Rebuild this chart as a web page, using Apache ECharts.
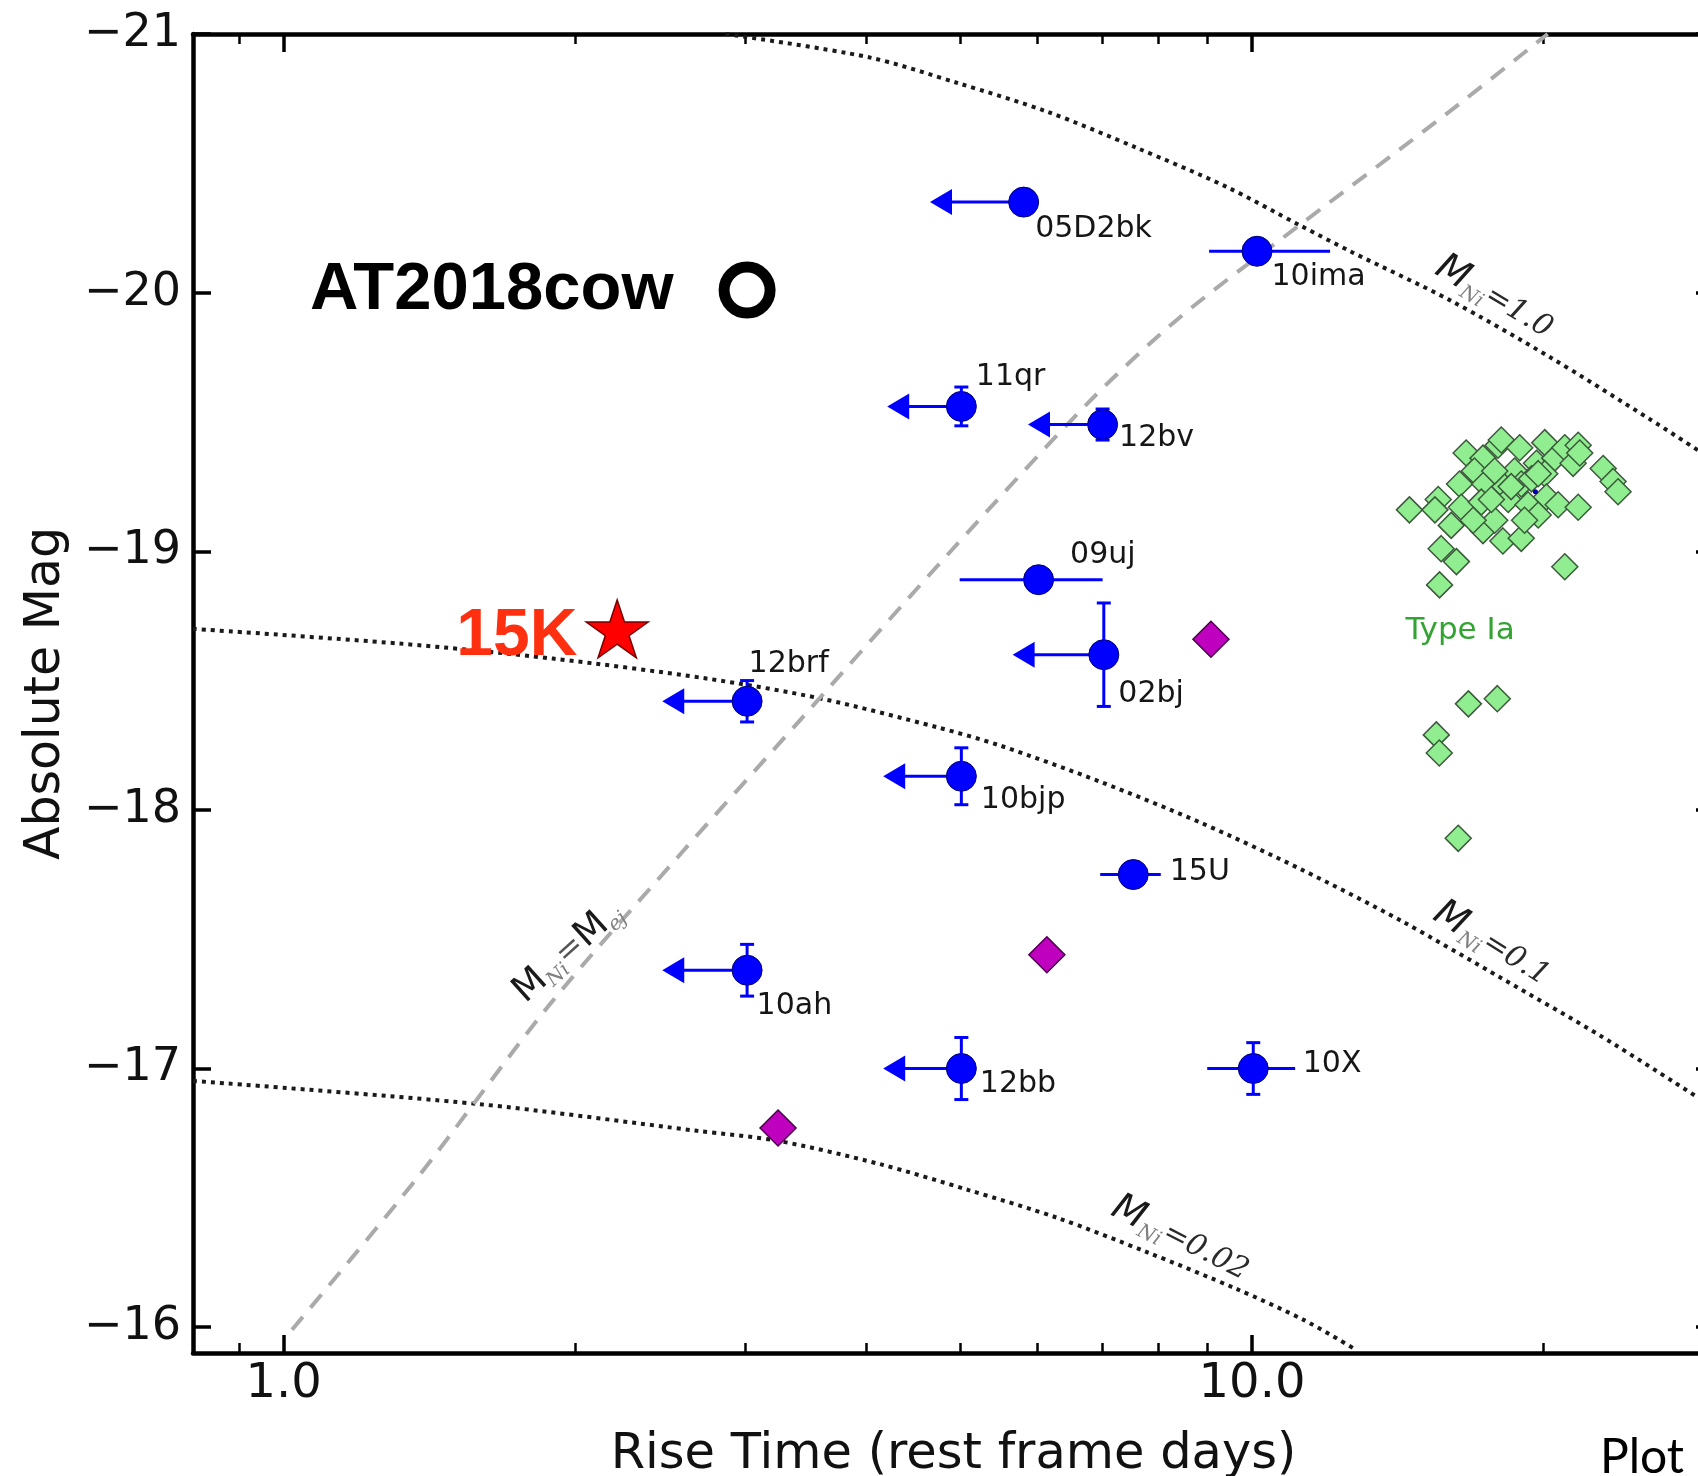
<!DOCTYPE html>
<html><head><meta charset="utf-8">
<script src="https://cdn.jsdelivr.net/npm/echarts@6/dist/echarts.min.js"></script>
<style>html,body{margin:0;padding:0;background:#fff;overflow:hidden;width:1698px;height:1476px}#c{width:1730px;height:1476px}</style>
</head><body><div id="c"></div>
<script>
// ---------------- data ----------------
const xMajorTicks = [1, 10];
const xMinorTicks = [0.9, 2, 3, 4, 5, 6, 7, 8, 9, 20, 30];
const yTicks = [-21, -20, -19, -18, -17, -16];

// blue transients
const names     = ['05D2bk','10ima','11qr','12bv','09uj','02bj','12brf','10bjp','15U','10ah','12bb','10X'];
const riseTime  = [5.81, 10.12, 5.01, 7.01, 6.02, 7.03, 3.01, 5.01, 7.54, 3.01, 5.01, 10.03];
const absMag    = [-20.35, -20.16, -19.56, -19.49, -18.89, -18.60, -18.42, -18.13, -17.75, -17.38, -17.00, -17.00];
const upperLim  = [1, 0, 1, 1, 0, 1, 1, 1, 0, 1, 1, 0];            // rise time upper limit (arrow)
const riseLow   = [4.65, 9.03, 4.2, 5.87, 4.99, 5.66, 2.46, 4.16, 6.97, 2.46, 4.16, 8.99]; // arrow tip or lower end
const riseHigh  = [0, 12.04, 0, 0, 7.01, 0, 0, 0, 8.05, 0, 0, 11.08];
const magErr    = [0, 0, 0.075, 0.06, 0, 0.20, 0.08, 0.11, 0, 0.10, 0.12, 0.10];

// magenta diamonds
const magentaRise = [9.07, 6.14, 3.24];
const magentaMag  = [-18.66, -17.44, -16.77];

// AT2018cow and 15K
const cowRise = [3.01], cowMag = [-20.01];
const k15Rise = [2.21], k15Mag = [-18.70];

// Type Ia
const typeIaRise = [14.54,15.57,15.45,16.06,15.68,16.26,15.62,16.38,16.45,16.64,17.32,16.97,17.39,17.25,17.32,17.81,17.95,18.09,18.24,18.16,18.90,18.67,18.97,18.39,18.97,19.28,19.67,20.06,20.54,20.06,20.14,19.75,20.71,21.04,21.46,21.72,21.80,21.72,23.05,23.60,23.88,21.04,17.81,18.52,19.44,17.67,16.92,19.12,19.75,16.73,17.92,15.50,15.61,16.33];
const typeIaMag  = [-19.16,-19.20,-19.16,-19.10,-19.01,-18.96,-18.87,-19.26,-19.17,-19.38,-19.36,-19.31,-19.26,-19.19,-19.08,-19.12,-19.41,-19.43,-19.25,-19.04,-19.40,-19.31,-19.26,-19.20,-19.05,-19.18,-19.34,-19.42,-19.36,-19.30,-19.21,-19.14,-19.18,-19.40,-19.34,-19.41,-19.38,-19.17,-19.32,-19.27,-19.23,-18.94,-19.31,-19.25,-19.28,-19.20,-19.12,-19.12,-19.30,-18.41,-18.43,-18.29,-18.22,-17.89];
const tinyBlueRise = [19.62], tinyBlueMag = [-19.23];

// model curves
const curveNi10T  = [2.86, 4.02, 4.97, 6.14, 7.60, 9.40, 11.21, 12.63, 16.02, 20.32, 25.77, 28.89];
const curveNi10M  = [-21.0, -20.91, -20.81, -20.70, -20.56, -20.41, -20.26, -20.16, -19.97, -19.75, -19.51, -19.39];
const curveNi01T  = [0.806, 1.318, 1.897, 2.732, 3.592, 4.724, 5.501, 6.98, 8.857, 11.24, 14.26, 18.10, 22.96, 28.9];
const curveNi01M  = [-18.70, -18.643, -18.585, -18.508, -18.43, -18.32, -18.248, -18.108, -17.95, -17.77, -17.571, -17.349, -17.124, -16.887];
const curveNi002T = [0.806, 1.584, 2.674, 3.243, 4.121, 5.097, 6.301, 7.789, 9.649, 11.32, 12.72];
const curveNi002M = [-16.952, -16.863, -16.759, -16.72, -16.631, -16.53, -16.422, -16.29, -16.147, -16.027, -15.919];
const curveEjT    = [1.02, 1.373, 1.884, 2.548, 3.431, 4.89, 6.81, 8.42, 11.19, 15.99, 20.2];
const curveEjM    = [-15.99, -16.576, -17.249, -17.814, -18.356, -19.002, -19.583, -19.904, -20.26, -20.70, -21.0];

// annotation anchors (data coordinates)
const annoText  = ['Ni10', 'Ni01', 'Ni002', 'NiEj', 'TypeIa'];
const annoRise  = [17.78, 17.68, 8.43, 1.966, 16.40];
const annoMag   = [-19.98, -17.48, -16.34, -17.45, -18.69];

// ---------------- styling config ----------------
const BLUE = '#0000ff';
const FONT = 'DejaVu Sans';
const labelOffset = {
  '05D2bk':[12,28], '10ima':[15,26], '11qr':[15,-29], '12bv':[17,14], '09uj':[32,-24], '02bj':[15,40],
  '12brf':[2,-37], '10bjp':[20,24], '15U':[37,-2], '10ah':[10,36], '12bb':[19,16], '10X':[50,-4]
};
const annoStyle = {
  Ni10:  {fmt:'{m|M}{s|Ni}{e|=1.0}',  rotate:-31},
  Ni01:  {fmt:'{m|M}{s|Ni}{e|=0.1}',  rotate:-32},
  Ni002: {fmt:'{m|M}{s|Ni}{e|=0.02}', rotate:-27},
  NiEj:  {fmt:'{u|M}{s|Ni}{q|=}{u|M}{s|ej}', rotate:42},
  TypeIa:{fmt:'{g|Type Ia}', rotate:0}
};
const richStyles = {
  m: {fontFamily: FONT, fontStyle:'italic', fontSize: 38, color:'#1a1a1a'},
  u: {fontFamily: FONT, fontSize: 37, color:'#1a1a1a'},
  s: {fontFamily: 'DejaVu Serif', fontStyle:'italic', fontSize: 20, color:'#808080', padding:[22,0,0,0]},
  e: {fontFamily: 'DejaVu Serif', fontStyle:'italic', fontSize: 30, color:'#2a2a2a'},
  q: {fontFamily: 'DejaVu Serif', fontSize: 32, color:'#555'},
  g: {fontFamily: FONT, fontSize: 31, color:'#33a333'}
};

const X_MIN = 0.806, X_MAX = 30, Y_MIN = -21, Y_MAX = -15.9;
const zip = (a, b) => a.map((v, i) => [v, b[i]]);

const chart = echarts.init(document.getElementById('c'), null, {renderer:'canvas'});

function xAxisCfg(pos, major) {
  return {
    type:'log', logBase:10, min:X_MIN, max:X_MAX, position:pos, gridIndex:0,
    axisLine:{show:major, onZero:false, lineStyle:{color:'#000', width:4.5}},
    axisTick:{show:true, inside:true, length: major ? 18 : 10, customValues: major ? xMajorTicks : xMinorTicks,
              lineStyle:{color:'#000', width: major ? 3.5 : 2.5}},
    axisLabel:{show: major && pos === 'bottom', customValues: xMajorTicks,
               formatter: v => Number(v).toFixed(1), fontFamily: FONT, fontSize: 48, color:'#111', margin: 8},
    splitLine:{show:false}, minorTick:{show:false}, minorSplitLine:{show:false},
    name: (major && pos === 'bottom') ? 'Rise Time (rest frame days)' : '',
    nameLocation:'middle', nameGap: 77,
    nameTextStyle:{fontFamily: FONT, fontSize: 49.5, color:'#111'}
  };
}
function yAxisCfg(pos) {
  return {
    type:'value', inverse:true, min:Y_MIN, max:Y_MAX, interval:1, position:pos,
    axisLine:{show:true, onZero:false, lineStyle:{color:'#000', width:4.5}},
    axisTick:{show:true, inside:true, length:18, customValues: yTicks, lineStyle:{color:'#000', width:3.5}},
    axisLabel:{show: pos === 'left', customValues: yTicks,
               formatter: v => String(v).replace('-', '\u2212'),
               fontFamily: FONT, fontSize: 46, color:'#111', margin: 12},
    splitLine:{show:false},
    name: pos === 'left' ? 'Absolute Mag' : '', nameLocation:'middle', nameRotate:90, nameGap: 122,
    nameTextStyle:{fontFamily: FONT, fontSize: 49, color:'#111'}
  };
}

const dotted = {color:'#1a1a1a', width:4, type:[4, 5], cap:'butt'};

const option = {
  animation:false,
  backgroundColor:'#fff',
  grid:{left:193, top:34, width:1521, height:1319, containLabel:false, outerBoundsMode:'none'},
  xAxis:[xAxisCfg('bottom', true), xAxisCfg('bottom', false), xAxisCfg('top', true), xAxisCfg('top', false)],
  yAxis:[yAxisCfg('left'), yAxisCfg('right')],
  graphic:[{type:'text', left:1600, top:1434, z:100,
            style:{text:'Plot', fontFamily:'Lato', fontSize:48, fill:'#000'}}],
  series:[
    {type:'line', name:'MNi=1.0', data: zip(curveNi10T, curveNi10M), smooth:0.3, showSymbol:false, symbol:'none', lineStyle: dotted, z:1, silent:true},
    {type:'line', name:'MNi=0.1', data: zip(curveNi01T, curveNi01M), smooth:0.3, showSymbol:false, symbol:'none', lineStyle: dotted, z:1, silent:true},
    {type:'line', name:'MNi=0.02', data: zip(curveNi002T, curveNi002M), smooth:0.3, showSymbol:false, symbol:'none', lineStyle: dotted, z:1, silent:true},
    {type:'line', name:'MNi=Mej', data: zip(curveEjT, curveEjM), smooth:0.3, showSymbol:false, symbol:'none',
     lineStyle:{color:'#aaaaaa', width:4, type:[17, 12]}, z:1, silent:true},
    {type:'scatter', name:'TypeIa', data: zip(typeIaRise, typeIaMag), symbol:'diamond', symbolSize:26,
     itemStyle:{color:'#90ee90', borderColor:'#3b5a3b', borderWidth:1.5, opacity:1}, z:3},
    {type:'scatter', name:'tiny', data: zip(tinyBlueRise, tinyBlueMag), symbolSize:5, itemStyle:{color:'#0000aa', opacity:1}, z:4},
    {type:'scatter', name:'magenta', data: zip(magentaRise, magentaMag), symbol:'diamond', symbolSize:36,
     itemStyle:{color:'#bf00bf', borderColor:'#4b004b', borderWidth:1.5, opacity:1}, z:3},
    {type:'custom', name:'errors', z:4,
     data: names.map((n, i) => [riseTime[i], absMag[i], riseLow[i], riseHigh[i], magErr[i], upperLim[i]]),
     renderItem(params, api) {
       const t = api.value(0), m = api.value(1), lo = api.value(2), hi = api.value(3), me = api.value(4), lim = api.value(5);
       const c = api.coord([t, m]);
       const st = {stroke: BLUE, lineWidth: 3};
       const ch = [];
       if (lim) {
         const tip = api.coord([lo, m]);
         ch.push({type:'line', shape:{x1: tip[0] + 12, y1: c[1], x2: c[0], y2: c[1]}, style: st});
         ch.push({type:'polygon', shape:{points:[[tip[0], c[1]], [tip[0] + 22, c[1] - 13], [tip[0] + 22, c[1] + 13]]}, style:{fill: BLUE}});
       } else if (lo > 0 && hi > 0) {
         const a = api.coord([lo, m]), b = api.coord([hi, m]);
         ch.push({type:'line', shape:{x1: a[0], y1: c[1], x2: b[0], y2: c[1]}, style: st});
       }
       if (me > 0) {
         const top = api.coord([t, m - me]), bot = api.coord([t, m + me]);
         ch.push({type:'line', shape:{x1: c[0], y1: top[1], x2: c[0], y2: bot[1]}, style: st});
         ch.push({type:'line', shape:{x1: c[0] - 7, y1: top[1], x2: c[0] + 7, y2: top[1]}, style: st});
         ch.push({type:'line', shape:{x1: c[0] - 7, y1: bot[1], x2: c[0] + 7, y2: bot[1]}, style: st});
       }
       return {type:'group', children: ch};
     }},
    {type:'scatter', name:'blue', z:5, symbol:'circle', symbolSize:30,
     itemStyle:{color: BLUE, borderColor:'#000070', borderWidth:1, opacity:1},
     data: names.map((n, i) => ({
       name: n, value:[riseTime[i], absMag[i]],
       label:{show:true, formatter:'{b}', position:[15 + labelOffset[n][0], 15 + labelOffset[n][1]],
              align:'left', verticalAlign:'middle', fontFamily: FONT, fontSize: 30, color:'#161616'}
     }))},
    {type:'scatter', name:'AT2018cow', z:5, symbol:'circle', symbolSize:46,
     itemStyle:{color:'#ffffff', borderColor:'#000', borderWidth:11, opacity:1},
     data: zip(cowRise, cowMag).map(v => ({value: v, name:'AT2018cow'})),
     label:{show:true, formatter:'{b}', position:'left', distance:45, fontFamily:'Liberation Sans', fontWeight:'bold', fontSize:67, color:'#000'}},
    {type:'scatter', name:'15K', z:6,
     symbol:'path://M50,0L61.2,34.5L97.6,34.5L68.2,55.9L79.4,90.5L50,69.1L20.6,90.5L31.8,55.9L2.4,34.5L38.8,34.5Z',
     symbolSize:[62, 58], itemStyle:{color:'#ff0000', borderColor:'#7a0000', borderWidth:1.5, opacity:1},
     data: zip(k15Rise, k15Mag).map(v => ({value: v, name:'15K'})),
     label:{show:true, formatter:'{b}', position:'left', distance:8, offset:[0, 8], fontFamily:'Liberation Sans', fontWeight:'bold', fontSize:66, color:'#ff3010'}},
    {type:'scatter', name:'annotations', z:7, symbolSize:1, itemStyle:{color:'rgba(0,0,0,0)', opacity:1}, silent:true,
     data: annoText.map((k, i) => ({
       value:[annoRise[i], annoMag[i]],
       label:{show:true, position:'inside', rotate: annoStyle[k].rotate, formatter: annoStyle[k].fmt, rich: richStyles}
     }))}
  ]
};
chart.setOption(option);
</script></body></html>
